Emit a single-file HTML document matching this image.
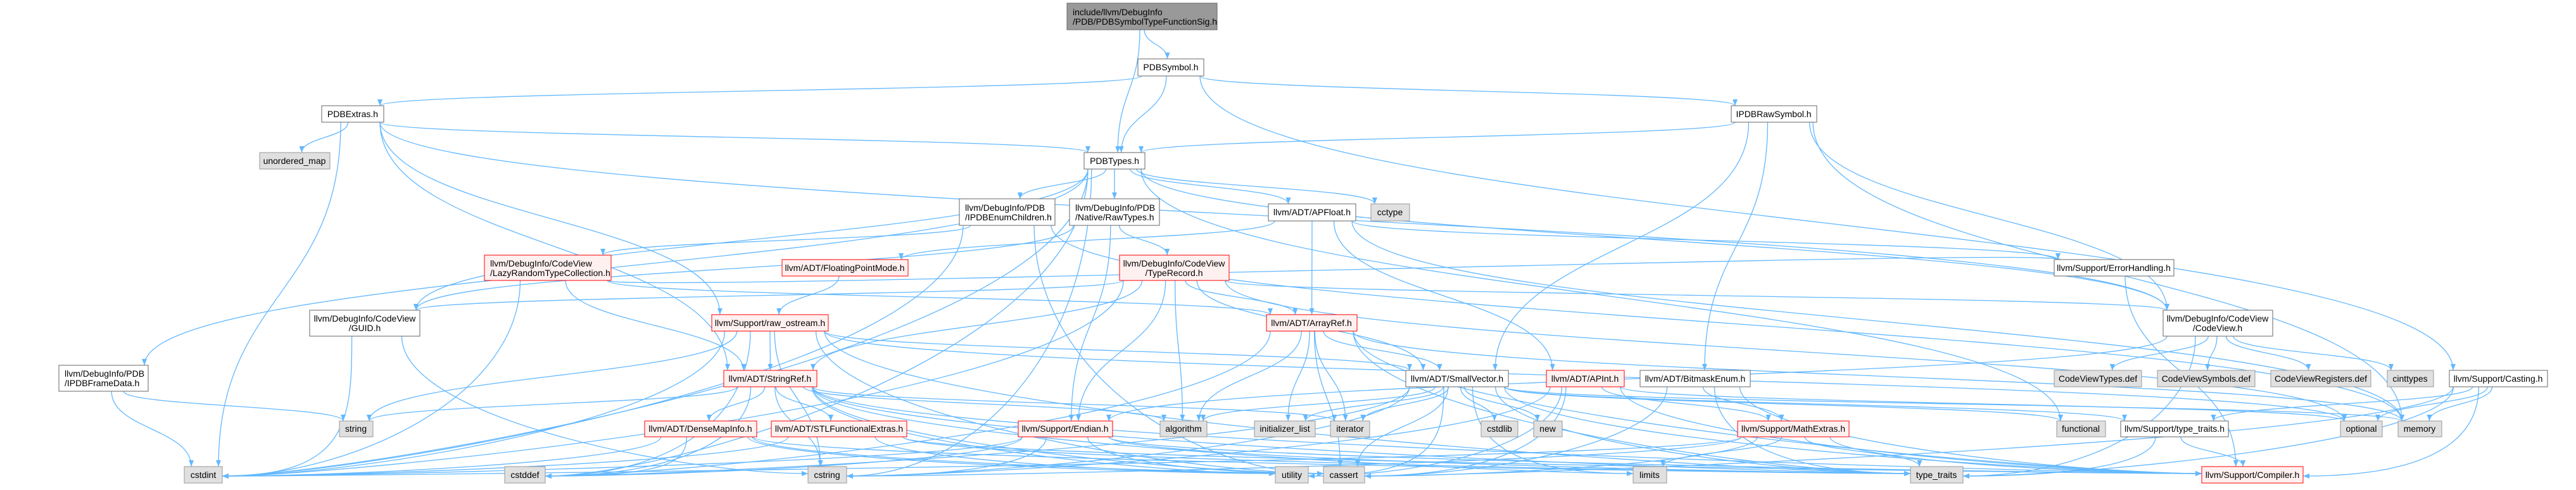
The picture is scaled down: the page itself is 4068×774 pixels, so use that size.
<!DOCTYPE html>
<html><head><meta charset="utf-8">
<style>
html,body{margin:0;padding:0;background:#fff;}
svg{display:block;}
text{font-family:"Liberation Sans",sans-serif;font-size:14px;fill:#000;}
</style></head>
<body>
<svg id="g" width="4068" height="774" viewBox="0 0 4068 774" xmlns="http://www.w3.org/2000/svg">
<defs>
<marker id="ah" viewBox="0 0 10 8" refX="10" refY="4" markerWidth="10" markerHeight="8" markerUnits="userSpaceOnUse" orient="auto">
<path d="M0,0 L10,4 L0,8 z" fill="#63b8ff"/>
</marker>
</defs>
<g id="edges" fill="none" stroke="#63b8ff" stroke-width="1.3"></g>
<g id="nodes">
<rect x="1685" y="5" width="237" height="42" fill="#999999" stroke="#666666"/>
<text x="1694" y="24">include/llvm/DebugInfo</text><text x="1694" y="39">/PDB/PDBSymbolTypeFunctionSig.h</text>

<rect x="1797" y="93" width="104" height="27" fill="#fff" stroke="#666"/><text x="1849" y="111" text-anchor="middle">PDBSymbol.h</text>
<rect x="508" y="167" width="98" height="26" fill="#fff" stroke="#666"/><text x="557" y="185" text-anchor="middle">PDBExtras.h</text>
<rect x="2734" y="167" width="135" height="26" fill="#fff" stroke="#666"/><text x="2801" y="185" text-anchor="middle">IPDBRawSymbol.h</text>
<rect x="410" y="241" width="111" height="26" fill="#e0e0e0" stroke="#999"/><text x="465" y="259" text-anchor="middle">unordered_map</text>
<rect x="1712" y="241" width="96" height="26" fill="#fff" stroke="#666"/><text x="1760" y="259" text-anchor="middle">PDBTypes.h</text>

<rect x="1515" y="314" width="151" height="42" fill="#fff" stroke="#666"/><text x="1524" y="333">llvm/DebugInfo/PDB</text><text x="1524" y="348">/IPDBEnumChildren.h</text>
<rect x="1689" y="314" width="142" height="42" fill="#fff" stroke="#666"/><text x="1698" y="333">llvm/DebugInfo/PDB</text><text x="1698" y="348">/Native/RawTypes.h</text>
<rect x="2003" y="322" width="138" height="27" fill="#fff" stroke="#666"/><text x="2072" y="340" text-anchor="middle">llvm/ADT/APFloat.h</text>
<rect x="2165" y="322" width="61" height="27" fill="#e0e0e0" stroke="#999"/><text x="2195" y="340" text-anchor="middle">cctype</text>

<rect x="765" y="403" width="200" height="40" fill="#fff0f0" stroke="#ff0000"/><text x="774" y="421">llvm/DebugInfo/CodeView</text><text x="774" y="436">/LazyRandomTypeCollection.h</text>
<rect x="1235" y="410" width="199" height="26" fill="#fff0f0" stroke="#ff0000"/><text x="1334" y="428" text-anchor="middle">llvm/ADT/FloatingPointMode.h</text>
<rect x="1768" y="403" width="173" height="40" fill="#fff0f0" stroke="#ff0000"/><text x="1854" y="421" text-anchor="middle">llvm/DebugInfo/CodeView</text><text x="1854" y="436" text-anchor="middle">/TypeRecord.h</text>
<rect x="3244" y="410" width="189" height="26" fill="#fff" stroke="#666"/><text x="3338" y="428" text-anchor="middle">llvm/Support/ErrorHandling.h</text>

<rect x="489" y="490" width="174" height="41" fill="#fff" stroke="#666"/><text x="576" y="508" text-anchor="middle">llvm/DebugInfo/CodeView</text><text x="576" y="523" text-anchor="middle">/GUID.h</text>
<rect x="1124" y="497" width="184" height="26" fill="#fff0f0" stroke="#ff0000"/><text x="1216" y="515" text-anchor="middle">llvm/Support/raw_ostream.h</text>
<rect x="2000" y="497" width="143" height="26" fill="#fff0f0" stroke="#ff0000"/><text x="2071" y="515" text-anchor="middle">llvm/ADT/ArrayRef.h</text>
<rect x="3416" y="490" width="173" height="41" fill="#fff" stroke="#666"/><text x="3502" y="508" text-anchor="middle">llvm/DebugInfo/CodeView</text><text x="3502" y="523" text-anchor="middle">/CodeView.h</text>

<rect x="93" y="577" width="141" height="41" fill="#fff" stroke="#666"/><text x="102" y="595">llvm/DebugInfo/PDB</text><text x="102" y="610">/IPDBFrameData.h</text>
<rect x="1143" y="585" width="147" height="26" fill="#fff0f0" stroke="#ff0000"/><text x="1216" y="603" text-anchor="middle">llvm/ADT/StringRef.h</text>
<rect x="2220" y="585" width="162" height="26" fill="#fff" stroke="#666"/><text x="2301" y="603" text-anchor="middle">llvm/ADT/SmallVector.h</text>
<rect x="2442" y="585" width="123" height="26" fill="#fff0f0" stroke="#ff0000"/><text x="2503" y="603" text-anchor="middle">llvm/ADT/APInt.h</text>
<rect x="2590" y="585" width="174" height="26" fill="#fff" stroke="#666"/><text x="2677" y="603" text-anchor="middle">llvm/ADT/BitmaskEnum.h</text>
<rect x="3244" y="585" width="138" height="26" fill="#e0e0e0" stroke="#999"/><text x="3313" y="603" text-anchor="middle">CodeViewTypes.def</text>
<rect x="3407" y="585" width="154" height="26" fill="#e0e0e0" stroke="#999"/><text x="3484" y="603" text-anchor="middle">CodeViewSymbols.def</text>
<rect x="3586" y="585" width="158" height="26" fill="#e0e0e0" stroke="#999"/><text x="3665" y="603" text-anchor="middle">CodeViewRegisters.def</text>
<rect x="3770" y="585" width="73" height="26" fill="#e0e0e0" stroke="#999"/><text x="3806" y="603" text-anchor="middle">cinttypes</text>
<rect x="3868" y="585" width="155" height="26" fill="#fff" stroke="#666"/><text x="3945" y="603" text-anchor="middle">llvm/Support/Casting.h</text>

<rect x="536" y="665" width="53" height="25" fill="#e0e0e0" stroke="#999"/><text x="562" y="682" text-anchor="middle">string</text>
<rect x="1018" y="665" width="177" height="25" fill="#fff0f0" stroke="#ff0000"/><text x="1106" y="682" text-anchor="middle">llvm/ADT/DenseMapInfo.h</text>
<rect x="1218" y="665" width="214" height="25" fill="#fff0f0" stroke="#ff0000"/><text x="1325" y="682" text-anchor="middle">llvm/ADT/STLFunctionalExtras.h</text>
<rect x="1608" y="665" width="149" height="25" fill="#fff0f0" stroke="#ff0000"/><text x="1682" y="682" text-anchor="middle">llvm/Support/Endian.h</text>
<rect x="1832" y="665" width="74" height="25" fill="#e0e0e0" stroke="#999"/><text x="1869" y="682" text-anchor="middle">algorithm</text>
<rect x="1981" y="665" width="96" height="25" fill="#e0e0e0" stroke="#999"/><text x="2029" y="682" text-anchor="middle">initializer_list</text>
<rect x="2101" y="665" width="62" height="25" fill="#e0e0e0" stroke="#999"/><text x="2132" y="682" text-anchor="middle">iterator</text>
<rect x="2339" y="665" width="58" height="25" fill="#e0e0e0" stroke="#999"/><text x="2368" y="682" text-anchor="middle">cstdlib</text>
<rect x="2422" y="665" width="45" height="25" fill="#e0e0e0" stroke="#999"/><text x="2444" y="682" text-anchor="middle">new</text>
<rect x="2744" y="665" width="176" height="25" fill="#fff0f0" stroke="#ff0000"/><text x="2832" y="682" text-anchor="middle">llvm/Support/MathExtras.h</text>
<rect x="3248" y="665" width="77" height="25" fill="#e0e0e0" stroke="#999"/><text x="3286" y="682" text-anchor="middle">functional</text>
<rect x="3349" y="665" width="170" height="25" fill="#fff" stroke="#666"/><text x="3434" y="682" text-anchor="middle">llvm/Support/type_traits.h</text>
<rect x="3696" y="665" width="66" height="25" fill="#e0e0e0" stroke="#999"/><text x="3729" y="682" text-anchor="middle">optional</text>
<rect x="3787" y="665" width="69" height="25" fill="#e0e0e0" stroke="#999"/><text x="3821" y="682" text-anchor="middle">memory</text>

<rect x="291" y="737" width="60" height="26" fill="#e0e0e0" stroke="#999"/><text x="321" y="755" text-anchor="middle">cstdint</text>
<rect x="797" y="737" width="64" height="26" fill="#e0e0e0" stroke="#999"/><text x="829" y="755" text-anchor="middle">cstddef</text>
<rect x="1276" y="737" width="61" height="26" fill="#e0e0e0" stroke="#999"/><text x="1306" y="755" text-anchor="middle">cstring</text>
<rect x="2014" y="737" width="52" height="26" fill="#e0e0e0" stroke="#999"/><text x="2040" y="755" text-anchor="middle">utility</text>
<rect x="2090" y="737" width="65" height="26" fill="#e0e0e0" stroke="#999"/><text x="2122" y="755" text-anchor="middle">cassert</text>
<rect x="2579" y="737" width="53" height="26" fill="#e0e0e0" stroke="#999"/><text x="2605" y="755" text-anchor="middle">limits</text>
<rect x="3017" y="737" width="83" height="26" fill="#e0e0e0" stroke="#999"/><text x="3058" y="755" text-anchor="middle">type_traits</text>
<rect x="3477" y="737" width="160" height="26" fill="#fff0f0" stroke="#ff0000"/><text x="3557" y="755" text-anchor="middle">llvm/Support/Compiler.h</text>
</g>
</svg>
<script>
var N={
root:[1685,5,1922,47],sym:[1797,93,1901,120],ext:[508,167,606,193],raw:[2734,167,2869,193],
umap:[410,241,521,267],types:[1712,241,1808,267],enumc:[1515,314,1666,356],rawt:[1689,314,1831,356],
apf:[2003,322,2141,349],cctype:[2165,322,2226,349],lazy:[765,403,965,443],fpm:[1235,410,1434,436],
trec:[1768,403,1941,443],err:[3244,410,3433,436],guid:[489,490,663,531],ros:[1124,497,1308,523],
aref:[2000,497,2143,523],cv:[3416,490,3589,531],frame:[93,577,234,618],sref:[1143,585,1290,611],
svec:[2220,585,2382,611],apint:[2442,585,2565,611],bme:[2590,585,2764,611],cvt:[3244,585,3382,611],
cvs:[3407,585,3561,611],cvr:[3586,585,3744,611],cint:[3770,585,3843,611],cast:[3868,585,4023,611],
string:[536,665,589,690],dmi:[1018,665,1195,690],stl:[1218,665,1432,690],endian:[1608,665,1757,690],
algo:[1832,665,1906,690],il:[1981,665,2077,690],iter:[2101,665,2163,690],cstdlib:[2339,665,2397,690],
"new":[2422,665,2467,690],mext:[2744,665,2920,690],func:[3248,665,3325,690],stt:[3349,665,3519,690],
opt:[3696,665,3762,690],mem:[3787,665,3856,690],cstdint:[291,737,351,763],cstddef:[797,737,861,763],
cstring:[1276,737,1337,763],utility:[2014,737,2066,763],cassert:[2090,737,2155,763],limits:[2579,737,2632,763],
tt:[3017,737,3100,763],comp:[3477,737,3637,763]};
var E={
root:["sym","types"],sym:["ext","types","raw","cast"],
ext:["umap","types","cv","ros","cstdint","sref"],
raw:["types","svec","bme","cv","mem"],
types:["enumc","rawt","apf","cctype","cv","frame","guid","cstdint","cstddef","cstring","func"],
enumc:["lazy","cassert","cstdint","mem"],rawt:["trec","endian","guid"],
apf:["apint","aref","fpm","err","mem"],lazy:["aref","sref","cstdint","err"],fpm:["ros"],
trec:["aref","svec","sref","endian","algo","cv","guid","cstdint","opt"],
ros:["sref","svec","cassert","cstddef","cstdint","cstring","string","opt","tt"],
guid:["cstdint","cstring"],frame:["cstdint","string"],
aref:["svec","comp","algo","cassert","cstddef","il","iter","mem","tt"],
cv:["cvt","cvs","cvr","cint","endian","tt"],err:["comp"],
sref:["dmi","stl","comp","algo","cassert","cstddef","cstring","iter","limits","string","tt","utility"],
svec:["comp","stt","algo","cassert","cstddef","cstdlib","cstring","func","il","iter","limits","mem","new","tt","utility"],
apint:["comp","mext","cassert","cstring","opt","utility"],bme:["mext","cassert","tt","comp"],
cast:["comp","stt","cassert","mem","opt","tt"],dmi:["cassert","cstddef","cstdint","tt","utility"],
stl:["comp","cstdint","tt","utility"],endian:["comp","cassert","cstddef","cstdint","cstring","tt"],
mext:["comp","cassert","cstdint","cstring","limits","tt"],stt:["comp","tt"]};
function cl(v,a,b){return Math.max(a,Math.min(b,v));}
var g=document.getElementById("edges"),s="";
for(var k in E){var a=N[k];E[k].forEach(function(t){var b=N[t];
var acx=(a[0]+a[2])/2,bcx=(b[0]+b[2])/2;
var sx=cl(acx+(bcx-acx)*0.08,a[0]+6,a[2]-6),sy=a[3];
var d;
if(b[1]>=737 && Math.abs(bcx-acx)>250){
 var tx=(acx<bcx)?b[0]:b[2];var ty=(b[1]+b[3])/2+((acx<bcx)?-4:4)*0.5;
 var c1=Math.max((ty-sy)*0.6,20);
 d='M'+sx.toFixed(1)+','+sy+' C'+sx.toFixed(1)+','+(sy+c1).toFixed(1)+' '+(tx+(acx<bcx?-200:200))+','+ty+' '+tx+','+ty;
}else{
 var tx=cl(bcx+(acx-bcx)*0.12,b[0]+6,b[2]-6),ty=b[1];
 var dy=ty-sy;var c=Math.max(dy*0.5,20);
 d='M'+sx.toFixed(1)+','+sy+' C'+sx.toFixed(1)+','+(sy+c).toFixed(1)+' '+tx.toFixed(1)+','+(ty-c).toFixed(1)+' '+tx.toFixed(1)+','+ty;
}
s+='<path marker-end="url(#ah)" d="'+d+'"/>';});}
g.innerHTML=s;
</script>
</body></html>
